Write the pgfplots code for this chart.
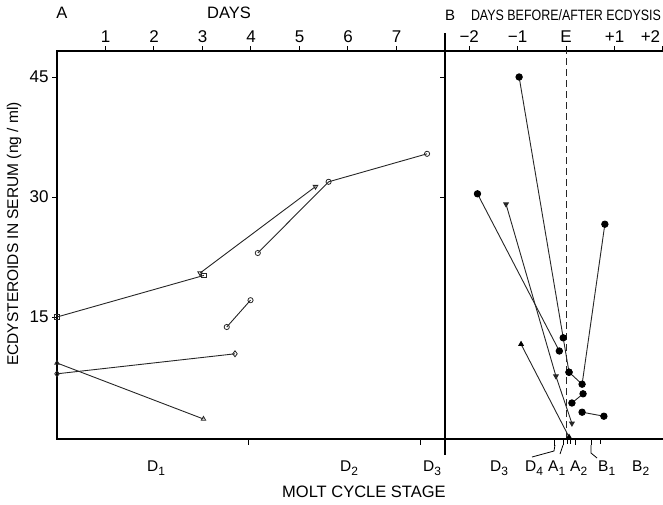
\documentclass[border=0pt]{standalone}
\usepackage{fontspec}
\setmainfont{Liberation Sans}
\usepackage{pgfplots}
\pgfplotsset{compat=1.18}
\pgfplotsset{
  dl/.style={color=black!85, line width=0.9pt, mark options={solid, line width=0.8pt}},
  opn/.style={mark options={fill=white, line width=0.8pt}},
  fil/.style={mark options={fill=black, draw=black}},
}
\tikzset{btick/.style={black, line width=1pt}}
\begin{document}
\begin{tikzpicture}[x=1pt,y=1pt]
\useasboundingbox (-57,-65) rectangle (606,439);
% ---------------- Panel A ----------------
\begin{axis}[
  at={(0,0)}, anchor=south west, scale only axis,
  width=388pt, height=388pt,
  xmin=0, xmax=8, ymin=-0.25, ymax=48.25,
  xtick={1,2,3,4,5,6,7}, xtick pos=right, xticklabel pos=right,
  ytick={15,30,45}, ytick pos=left,
  tick align=outside, major tick length=5pt,
  tick style={black, line width=1pt},
  axis line style={line width=1.4pt},
  ticklabel style={font=\fontsize{17}{19}\selectfont},
  /pgf/number format/assume math mode=true,
  clip=false,
]
\addplot[dl, mark=square, mark size=2.3pt, opn] coordinates {(0,15) (3.03,20.2)};
\addplot[dl, mark=triangle, mark size=2.6pt, opn, mark options={rotate=180}] coordinates {(2.95,20.5) (5.33,31.3)};
\addplot[dl, mark=o, mark size=2.6pt, opn] coordinates {(4.14,23.0) (5.6,31.9) (7.63,35.4)};
\addplot[dl, mark=o, mark size=2.6pt, opn] coordinates {(3.5,13.75) (3.99,17.1)};
\addplot[dl, mark=diamond, mark size=3pt, opn] coordinates {(0,7.9) (3.67,10.4)};
\addplot[dl, mark=triangle, mark size=2.6pt, opn] coordinates {(0,9.25) (3.02,2.25)};
% bottom stage ticks
\draw[btick] (axis cs:3.95,-0.25) -- ([yshift=-6pt]axis cs:3.95,-0.25);
\draw[btick] (axis cs:7.5,-0.25) -- ([yshift=-6pt]axis cs:7.5,-0.25);
\end{axis}
% ---------------- Panel B ----------------
\begin{axis}[
  at={(388pt,0)}, anchor=south west, scale only axis,
  width=222pt, height=388pt,
  xmin=-2.5, xmax=2.083, ymin=-0.25, ymax=48.25,
  xtick={-2,-1,0,1,2}, xticklabels={−2,−1,E,+1,\llap{+2\,}},
  xtick pos=right, xticklabel pos=right,
  ytick={30,45}, yticklabels={,}, ytick pos=left,
  tick align=outside, major tick length=5pt,
  tick style={black, line width=1pt},
  axis line style={line width=1.4pt},
  ticklabel style={font=\fontsize{17}{19}\selectfont},
  clip=false,
]
\draw[black!85, line width=1.2pt, dash pattern=on 7pt off 4pt] (axis cs:0,-0.25) -- (axis cs:0,48.25);
\addplot[dl, mark=*, mark size=3.2pt, fil] coordinates {(-0.97,45) (-0.06,12.4) (0.06,8.1)};
\addplot[dl, mark=*, mark size=3.2pt, fil] coordinates {(-1.83,30.4) (-0.14,10.75)};
\addplot[dl, mark=triangle*, mark size=2.6pt, fil, mark options={rotate=180}] coordinates {(-1.24,29.1) (-0.21,7.6) (0.12,1.7)};
\addplot[dl, mark=triangle*, mark size=2.6pt, fil] coordinates {(-0.93,11.6) (0.06,0)};
\addplot[dl, mark=*, mark size=3.2pt, fil] coordinates {(0.06,8.1) (0.33,6.6) (0.80,26.6)};
\addplot[dl, mark=*, mark size=3.2pt, fil] coordinates {(0.12,4.25) (0.35,5.4)};
\addplot[dl, mark=*, mark size=3.2pt, fil] coordinates {(0.33,3.1) (0.78,2.6)};
% bottom stage ticks
\draw[btick] (axis cs:-0.23,-0.25) -- ([yshift=-7pt]axis cs:-0.23,-0.25);
\draw[btick] (axis cs:-0.06,-0.25) -- ([yshift=-6pt]axis cs:-0.06,-0.25);
\draw[btick] (axis cs:0.02,-0.25) -- ([yshift=-5pt]axis cs:0.02,-0.25);
\draw[btick] (axis cs:0.10,-0.25) -- ([yshift=-5pt]axis cs:0.10,-0.25);
\draw[btick] (axis cs:0.19,-0.25) -- ([yshift=-6pt]axis cs:0.19,-0.25);
\draw[btick] (axis cs:0.52,-0.25) -- ([yshift=-6pt]axis cs:0.52,-0.25);
\draw[btick] (axis cs:0.70,-0.25) -- ([yshift=-5pt]axis cs:0.70,-0.25);
\end{axis}
% separator extensions and leader lines
\draw[line width=1.4pt] (388,388) -- (388,406);
\draw[line width=1.4pt] (388,0) -- (388,-16);
\draw[line width=0.8pt] (498,-6) -- (497,-12) -- (475,-18);
\draw[line width=0.8pt] (506,-6) -- (503,-15);
\draw[line width=0.8pt] (534,-6) -- (534,-14) -- (540,-19);
% titles
\node[anchor=center, font=\fontsize{16.5}{18}\selectfont] at (5,426) {A};
\node[anchor=center, font=\fontsize{16.5}{18}\selectfont] at (172,426) {DAYS};
\node[anchor=center, font=\fontsize{15}{17}\selectfont] at (393,424) {B};
\node[anchor=center, font=\fontsize{15}{17}\selectfont] at (509,424) {\scalebox{0.83}[1]{DAYS BEFORE/AFTER ECDYSIS}};
% y label
\node[rotate=90, anchor=center, font=\fontsize{15.5}{18}\selectfont] at (-43,205) {ECDYSTEROIDS IN SERUM (ng / ml)};
% stage labels
\newcommand{\stg}[2]{#1\raisebox{-4pt}{\fontsize{12}{12}\selectfont #2}}
\begin{scope}[every node/.style={anchor=base west, inner sep=0pt, font=\fontsize{15.5}{18}\selectfont}]
\node at (90,-32) {\stg{D}{1}};
\node at (283,-32) {\stg{D}{2}};
\node at (366,-32) {\stg{D}{3}};
\node at (433,-32) {\stg{D}{3}};
\node at (468,-32) {\stg{D}{4}};
\node at (491,-32) {\stg{A}{1}};
\node at (513,-32) {\stg{A}{2}};
\node at (541,-32) {\stg{B}{1}};
\node at (575,-32) {\stg{B}{2}};
\node[font=\fontsize{16.5}{18}\selectfont] at (225,-58) {MOLT CYCLE STAGE};
\end{scope}
\end{tikzpicture}
\end{document}
